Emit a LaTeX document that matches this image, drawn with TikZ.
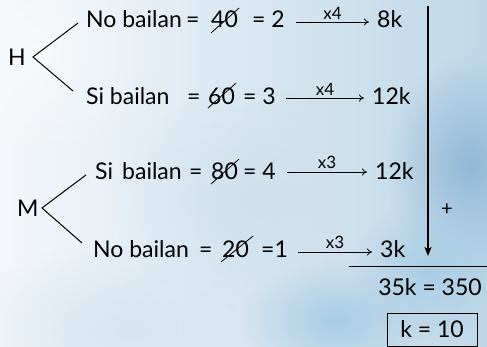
\documentclass[tikz,border=0pt]{standalone}
\usepackage{fontspec}
\setmainfont{Lato}
\usetikzlibrary{arrows.meta,calc,fadings}
\tikzfading[name=blob,inner color=transparent!0,outer color=transparent!100]
\definecolor{bgleft}{HTML}{F4F7FA}
\definecolor{bgright}{HTML}{BFD8E9}
\definecolor{cloudA}{HTML}{93B8D6}
\definecolor{cloudB}{HTML}{A9CDE5}
\definecolor{cloudC}{HTML}{CFE1EE}
\definecolor{cloudD}{HTML}{D6E5F0}
\tikzset{
  txt/.style={anchor=base west,inner sep=0pt,font=\fontsize{23}{27}\selectfont},
  ctxt/.style={anchor=base,inner sep=0pt,font=\fontsize{23}{27}\selectfont},
  lbl/.style={inner sep=2.5pt,font=\fontsize{17}{19}\selectfont},
  arr/.style={line width=0.8pt,-{To[length=5pt,width=7pt]}},
  branch/.style={line width=1pt},
  slash/.style={line width=0.8pt},
}
\begin{document}
\begin{tikzpicture}[x=1pt,y=-1pt]
\useasboundingbox (0,0) rectangle (487,347);
% background
\shade[left color=bgleft,right color=bgright] (0,0) rectangle (487,347);
\fill[cloudD,path fading=blob] (130,330) ellipse (170 and 90);
\fill[cloudC,path fading=blob] (260,200) ellipse (150 and 110);
\fill[cloudA,path fading=blob] (470,165) ellipse (85 and 110);
\fill[cloudB,path fading=blob] (335,320) ellipse (95 and 60);
\fill[cloudB,path fading=blob] (430,270) ellipse (80 and 70);
\fill[white,opacity=0.5,path fading=blob] (40,50) ellipse (130 and 110);

% H tree
\node[txt] (H) at (8,66) {H};
\coordinate (hv) at (33,57);
\coordinate (h1) at (78,23);
\coordinate (h2) at (73,91);
\draw[branch] (h1) -- (hv) -- (h2);

% M tree
\node[txt] (M) at (17,217) {M};
\coordinate (mv) at (42,208);
\coordinate (m1) at (86,175);
\coordinate (m2) at (82,243);
\draw[branch] (m1) -- (mv) -- (m2);

% Row 1
\node[txt] (t1) at (86,28) {No bailan};
\node[txt] (q1) at (186,28) {=};
\node[txt] (n1) at (211,28) {40};
\node[txt] (e1) at (252,28) {= 2};
\node[txt] (r1) at (377,28) {8k};
\draw[slash] ($(n1.base west)+(0,5)$) -- ($(n1.base east)+(1,-20)$);
\draw[arr] ($(e1.base east)+(11,-6)$) -- node[lbl,above] {x4} ($(r1.base west)+(-8,-6)$);

% Row 2
\node[txt] (t2) at (86,105) {Si bailan};
\node[txt] (q2) at (187,105) {=};
\node[txt] (n2) at (208,105) {60};
\node[txt] (e2) at (243,105) {= 3};
\node[txt] (r2) at (372,105) {12k};
\draw[slash] ($(n2.base west)+(0,3)$) -- ($(n2.base east)+(1,-22)$);
\draw[arr] ($(e2.base east)+(10,-7)$) -- node[lbl,above] {x4} ($(r2.base west)+(-8,-7)$);

% Row 3
\node[txt] (t3a) at (95,180) {Si};
\node[txt] (t3) at (122,180) {bailan};
\node[txt] (q3) at (189,180) {=};
\node[txt] (n3) at (211,180) {80};
\node[txt] (e3) at (243,180) {= 4};
\node[txt] (r3) at (375,180) {12k};
\draw[slash] ($(n3.base west)+(0,4)$) -- ($(n3.base east)+(1,-21)$);
\draw[arr] ($(e3.base east)+(11,-8)$) -- node[lbl,above] {x3} ($(r3.base west)+(-8,-8)$);

% Row 4
\node[txt] (t4) at (93,258) {No bailan};
\node[txt] (q4) at (199,258) {=};
\node[txt] (n4) at (222,258) {20};
\node[txt] (e4) at (261,258) {=1};
\node[txt] (r4) at (380,258) {3k};
\draw[slash] ($(n4.base west)+(-1,4)$) -- ($(n4.base east)+(4,-22)$);
\draw[arr] ($(e4.base east)+(10,-6)$) -- node[lbl,above] {x3} ($(r4.base west)+(-8,-6)$);

% Sum arrow
\coordinate (vtop) at (428,6);
\coordinate (vbot) at (428,256);
\draw[line width=1.3pt,-{Stealth[length=9pt,width=7pt,inset=2pt]}] (vtop) -- (vbot);
\node[inner sep=0pt,font=\fontsize{20}{22}\selectfont] (plus) at (447,210) {+};

% total line
\coordinate (ls) at (349,267);
\coordinate (le) at (487,267);
\draw[line width=1pt] (ls) -- (le);
\node[ctxt] (tot) at (430,295) {35k = 350};
\node[draw,line width=0.8pt,minimum width=90pt,minimum height=33pt,inner sep=0pt] (box) at (432,329.5) {};
\node[inner sep=0pt,font=\fontsize{23}{27}\selectfont] (k) at (box.center) {k = 10};
\end{tikzpicture}
\end{document}
